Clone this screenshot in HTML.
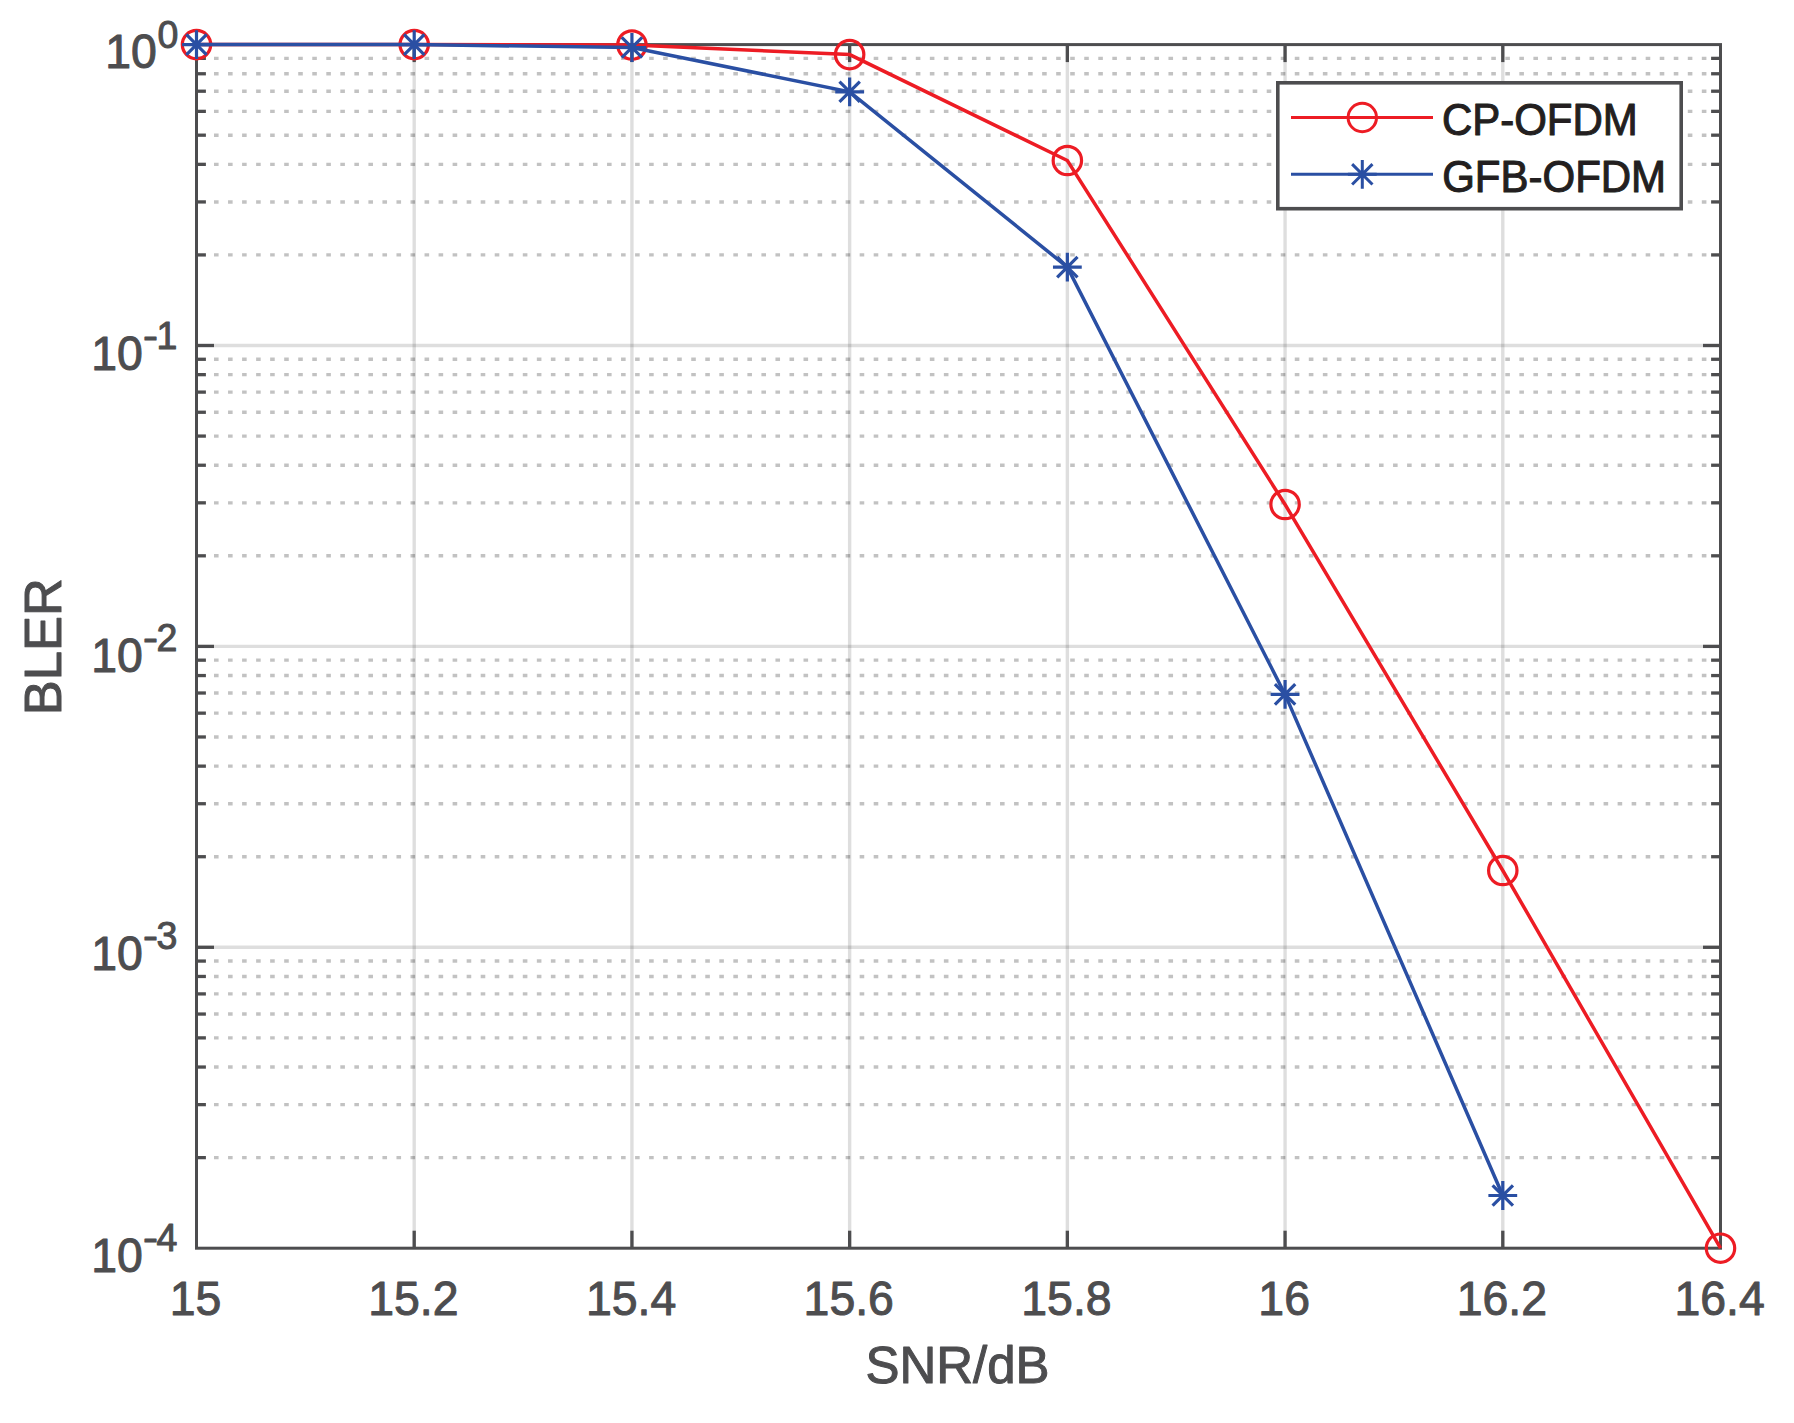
<!DOCTYPE html>
<html lang="en"><head><meta charset="utf-8"><title>BLER vs SNR</title>
<style>html,body{margin:0;padding:0;background:#fff;}body{width:1794px;height:1423px;overflow:hidden;}svg{display:block;}text{font-family:"Liberation Sans",sans-serif;}</style>
</head><body>
<svg width="1794" height="1423" viewBox="0 0 1794 1423">
<rect x="0" y="0" width="1794" height="1423" fill="#ffffff"/>
<g stroke="#000" stroke-opacity="0.24" stroke-width="3.40" stroke-dasharray="4.600 9.436" fill="none">
<line x1="214.00" y1="254.92" x2="1710.10" y2="254.92"/>
<line x1="214.00" y1="201.93" x2="1710.10" y2="201.93"/>
<line x1="214.00" y1="164.34" x2="1710.10" y2="164.34"/>
<line x1="214.00" y1="135.18" x2="1710.10" y2="135.18"/>
<line x1="214.00" y1="111.35" x2="1710.10" y2="111.35"/>
<line x1="214.00" y1="91.21" x2="1710.10" y2="91.21"/>
<line x1="214.00" y1="73.76" x2="1710.10" y2="73.76"/>
<line x1="214.00" y1="58.37" x2="1710.10" y2="58.37"/>
<line x1="214.00" y1="555.82" x2="1710.10" y2="555.82"/>
<line x1="214.00" y1="502.83" x2="1710.10" y2="502.83"/>
<line x1="214.00" y1="465.24" x2="1710.10" y2="465.24"/>
<line x1="214.00" y1="436.08" x2="1710.10" y2="436.08"/>
<line x1="214.00" y1="412.25" x2="1710.10" y2="412.25"/>
<line x1="214.00" y1="392.11" x2="1710.10" y2="392.11"/>
<line x1="214.00" y1="374.66" x2="1710.10" y2="374.66"/>
<line x1="214.00" y1="359.27" x2="1710.10" y2="359.27"/>
<line x1="214.00" y1="856.72" x2="1710.10" y2="856.72"/>
<line x1="214.00" y1="803.73" x2="1710.10" y2="803.73"/>
<line x1="214.00" y1="766.14" x2="1710.10" y2="766.14"/>
<line x1="214.00" y1="736.98" x2="1710.10" y2="736.98"/>
<line x1="214.00" y1="713.15" x2="1710.10" y2="713.15"/>
<line x1="214.00" y1="693.01" x2="1710.10" y2="693.01"/>
<line x1="214.00" y1="675.56" x2="1710.10" y2="675.56"/>
<line x1="214.00" y1="660.17" x2="1710.10" y2="660.17"/>
<line x1="214.00" y1="1157.62" x2="1710.10" y2="1157.62"/>
<line x1="214.00" y1="1104.63" x2="1710.10" y2="1104.63"/>
<line x1="214.00" y1="1067.04" x2="1710.10" y2="1067.04"/>
<line x1="214.00" y1="1037.88" x2="1710.10" y2="1037.88"/>
<line x1="214.00" y1="1014.05" x2="1710.10" y2="1014.05"/>
<line x1="214.00" y1="993.91" x2="1710.10" y2="993.91"/>
<line x1="214.00" y1="976.46" x2="1710.10" y2="976.46"/>
<line x1="214.00" y1="961.07" x2="1710.10" y2="961.07"/>
</g>
<g stroke="#000" stroke-opacity="0.13" stroke-width="3.4" fill="none">
<line x1="414.21" y1="44.60" x2="414.21" y2="1248.20"/>
<line x1="631.93" y1="44.60" x2="631.93" y2="1248.20"/>
<line x1="849.64" y1="44.60" x2="849.64" y2="1248.20"/>
<line x1="1067.36" y1="44.60" x2="1067.36" y2="1248.20"/>
<line x1="1285.07" y1="44.60" x2="1285.07" y2="1248.20"/>
<line x1="1502.79" y1="44.60" x2="1502.79" y2="1248.20"/>
<line x1="196.50" y1="345.50" x2="1720.50" y2="345.50"/>
<line x1="196.50" y1="646.40" x2="1720.50" y2="646.40"/>
<line x1="196.50" y1="947.30" x2="1720.50" y2="947.30"/>
</g>
<g stroke="#4d4d4f" stroke-width="3.3" fill="none">
<line x1="414.21" y1="1248.20" x2="414.21" y2="1230.70"/>
<line x1="414.21" y1="44.60" x2="414.21" y2="62.10"/>
<line x1="631.93" y1="1248.20" x2="631.93" y2="1230.70"/>
<line x1="631.93" y1="44.60" x2="631.93" y2="62.10"/>
<line x1="849.64" y1="1248.20" x2="849.64" y2="1230.70"/>
<line x1="849.64" y1="44.60" x2="849.64" y2="62.10"/>
<line x1="1067.36" y1="1248.20" x2="1067.36" y2="1230.70"/>
<line x1="1067.36" y1="44.60" x2="1067.36" y2="62.10"/>
<line x1="1285.07" y1="1248.20" x2="1285.07" y2="1230.70"/>
<line x1="1285.07" y1="44.60" x2="1285.07" y2="62.10"/>
<line x1="1502.79" y1="1248.20" x2="1502.79" y2="1230.70"/>
<line x1="1502.79" y1="44.60" x2="1502.79" y2="62.10"/>
<line x1="196.50" y1="345.50" x2="214.00" y2="345.50"/>
<line x1="1720.50" y1="345.50" x2="1703.00" y2="345.50"/>
<line x1="196.50" y1="646.40" x2="214.00" y2="646.40"/>
<line x1="1720.50" y1="646.40" x2="1703.00" y2="646.40"/>
<line x1="196.50" y1="947.30" x2="214.00" y2="947.30"/>
<line x1="1720.50" y1="947.30" x2="1703.00" y2="947.30"/>
<line x1="196.50" y1="254.92" x2="205.90" y2="254.92"/>
<line x1="1720.50" y1="254.92" x2="1711.10" y2="254.92"/>
<line x1="196.50" y1="201.93" x2="205.90" y2="201.93"/>
<line x1="1720.50" y1="201.93" x2="1711.10" y2="201.93"/>
<line x1="196.50" y1="164.34" x2="205.90" y2="164.34"/>
<line x1="1720.50" y1="164.34" x2="1711.10" y2="164.34"/>
<line x1="196.50" y1="135.18" x2="205.90" y2="135.18"/>
<line x1="1720.50" y1="135.18" x2="1711.10" y2="135.18"/>
<line x1="196.50" y1="111.35" x2="205.90" y2="111.35"/>
<line x1="1720.50" y1="111.35" x2="1711.10" y2="111.35"/>
<line x1="196.50" y1="91.21" x2="205.90" y2="91.21"/>
<line x1="1720.50" y1="91.21" x2="1711.10" y2="91.21"/>
<line x1="196.50" y1="73.76" x2="205.90" y2="73.76"/>
<line x1="1720.50" y1="73.76" x2="1711.10" y2="73.76"/>
<line x1="196.50" y1="58.37" x2="205.90" y2="58.37"/>
<line x1="1720.50" y1="58.37" x2="1711.10" y2="58.37"/>
<line x1="196.50" y1="555.82" x2="205.90" y2="555.82"/>
<line x1="1720.50" y1="555.82" x2="1711.10" y2="555.82"/>
<line x1="196.50" y1="502.83" x2="205.90" y2="502.83"/>
<line x1="1720.50" y1="502.83" x2="1711.10" y2="502.83"/>
<line x1="196.50" y1="465.24" x2="205.90" y2="465.24"/>
<line x1="1720.50" y1="465.24" x2="1711.10" y2="465.24"/>
<line x1="196.50" y1="436.08" x2="205.90" y2="436.08"/>
<line x1="1720.50" y1="436.08" x2="1711.10" y2="436.08"/>
<line x1="196.50" y1="412.25" x2="205.90" y2="412.25"/>
<line x1="1720.50" y1="412.25" x2="1711.10" y2="412.25"/>
<line x1="196.50" y1="392.11" x2="205.90" y2="392.11"/>
<line x1="1720.50" y1="392.11" x2="1711.10" y2="392.11"/>
<line x1="196.50" y1="374.66" x2="205.90" y2="374.66"/>
<line x1="1720.50" y1="374.66" x2="1711.10" y2="374.66"/>
<line x1="196.50" y1="359.27" x2="205.90" y2="359.27"/>
<line x1="1720.50" y1="359.27" x2="1711.10" y2="359.27"/>
<line x1="196.50" y1="856.72" x2="205.90" y2="856.72"/>
<line x1="1720.50" y1="856.72" x2="1711.10" y2="856.72"/>
<line x1="196.50" y1="803.73" x2="205.90" y2="803.73"/>
<line x1="1720.50" y1="803.73" x2="1711.10" y2="803.73"/>
<line x1="196.50" y1="766.14" x2="205.90" y2="766.14"/>
<line x1="1720.50" y1="766.14" x2="1711.10" y2="766.14"/>
<line x1="196.50" y1="736.98" x2="205.90" y2="736.98"/>
<line x1="1720.50" y1="736.98" x2="1711.10" y2="736.98"/>
<line x1="196.50" y1="713.15" x2="205.90" y2="713.15"/>
<line x1="1720.50" y1="713.15" x2="1711.10" y2="713.15"/>
<line x1="196.50" y1="693.01" x2="205.90" y2="693.01"/>
<line x1="1720.50" y1="693.01" x2="1711.10" y2="693.01"/>
<line x1="196.50" y1="675.56" x2="205.90" y2="675.56"/>
<line x1="1720.50" y1="675.56" x2="1711.10" y2="675.56"/>
<line x1="196.50" y1="660.17" x2="205.90" y2="660.17"/>
<line x1="1720.50" y1="660.17" x2="1711.10" y2="660.17"/>
<line x1="196.50" y1="1157.62" x2="205.90" y2="1157.62"/>
<line x1="1720.50" y1="1157.62" x2="1711.10" y2="1157.62"/>
<line x1="196.50" y1="1104.63" x2="205.90" y2="1104.63"/>
<line x1="1720.50" y1="1104.63" x2="1711.10" y2="1104.63"/>
<line x1="196.50" y1="1067.04" x2="205.90" y2="1067.04"/>
<line x1="1720.50" y1="1067.04" x2="1711.10" y2="1067.04"/>
<line x1="196.50" y1="1037.88" x2="205.90" y2="1037.88"/>
<line x1="1720.50" y1="1037.88" x2="1711.10" y2="1037.88"/>
<line x1="196.50" y1="1014.05" x2="205.90" y2="1014.05"/>
<line x1="1720.50" y1="1014.05" x2="1711.10" y2="1014.05"/>
<line x1="196.50" y1="993.91" x2="205.90" y2="993.91"/>
<line x1="1720.50" y1="993.91" x2="1711.10" y2="993.91"/>
<line x1="196.50" y1="976.46" x2="205.90" y2="976.46"/>
<line x1="1720.50" y1="976.46" x2="1711.10" y2="976.46"/>
<line x1="196.50" y1="961.07" x2="205.90" y2="961.07"/>
<line x1="1720.50" y1="961.07" x2="1711.10" y2="961.07"/>
<rect stroke-width="3" x="196.50" y="44.60" width="1524.00" height="1203.60"/>
</g>
<text transform="translate(195.60,1315.00) scale(1.000,1.020)" font-size="46.40" fill="#4d4d4f" stroke="#4d4d4f" stroke-width="1.0" stroke-linejoin="round" text-anchor="middle">15</text>
<text transform="translate(413.31,1315.00) scale(1.000,1.020)" font-size="46.40" fill="#4d4d4f" stroke="#4d4d4f" stroke-width="1.0" stroke-linejoin="round" text-anchor="middle">15.2</text>
<text transform="translate(631.03,1315.00) scale(1.000,1.020)" font-size="46.40" fill="#4d4d4f" stroke="#4d4d4f" stroke-width="1.0" stroke-linejoin="round" text-anchor="middle">15.4</text>
<text transform="translate(848.74,1315.00) scale(1.000,1.020)" font-size="46.40" fill="#4d4d4f" stroke="#4d4d4f" stroke-width="1.0" stroke-linejoin="round" text-anchor="middle">15.6</text>
<text transform="translate(1066.46,1315.00) scale(1.000,1.020)" font-size="46.40" fill="#4d4d4f" stroke="#4d4d4f" stroke-width="1.0" stroke-linejoin="round" text-anchor="middle">15.8</text>
<text transform="translate(1284.17,1315.00) scale(1.000,1.020)" font-size="46.40" fill="#4d4d4f" stroke="#4d4d4f" stroke-width="1.0" stroke-linejoin="round" text-anchor="middle">16</text>
<text transform="translate(1501.89,1315.00) scale(1.000,1.020)" font-size="46.40" fill="#4d4d4f" stroke="#4d4d4f" stroke-width="1.0" stroke-linejoin="round" text-anchor="middle">16.2</text>
<text transform="translate(1719.60,1315.00) scale(1.000,1.020)" font-size="46.40" fill="#4d4d4f" stroke="#4d4d4f" stroke-width="1.0" stroke-linejoin="round" text-anchor="middle">16.4</text>
<text transform="translate(105.20,68.10) scale(1.000,1.020)" font-size="46.40" fill="#4d4d4f" stroke="#4d4d4f" stroke-width="1.0" stroke-linejoin="round" text-anchor="start">10</text>
<text transform="translate(157.40,47.50) scale(1.000,1.020)" font-size="37.50" fill="#4d4d4f" stroke="#4d4d4f" stroke-width="1.0" stroke-linejoin="round" text-anchor="start">0</text>
<text transform="translate(91.20,370.00) scale(1.000,1.020)" font-size="46.40" fill="#4d4d4f" stroke="#4d4d4f" stroke-width="1.0" stroke-linejoin="round" text-anchor="start">10</text>
<text transform="translate(150.45,349.00) scale(1.200,1.020)" font-size="37.50" fill="#4d4d4f" stroke="#4d4d4f" stroke-width="1.0" stroke-linejoin="round" text-anchor="middle">-</text>
<text transform="translate(156.40,349.00) scale(1.000,1.020)" font-size="37.50" fill="#4d4d4f" stroke="#4d4d4f" stroke-width="1.0" stroke-linejoin="round" text-anchor="start">1</text>
<text transform="translate(91.20,671.80) scale(1.000,1.020)" font-size="46.40" fill="#4d4d4f" stroke="#4d4d4f" stroke-width="1.0" stroke-linejoin="round" text-anchor="start">10</text>
<text transform="translate(150.45,650.80) scale(1.200,1.020)" font-size="37.50" fill="#4d4d4f" stroke="#4d4d4f" stroke-width="1.0" stroke-linejoin="round" text-anchor="middle">-</text>
<text transform="translate(156.40,650.80) scale(1.000,1.020)" font-size="37.50" fill="#4d4d4f" stroke="#4d4d4f" stroke-width="1.0" stroke-linejoin="round" text-anchor="start">2</text>
<text transform="translate(91.20,970.00) scale(1.000,1.020)" font-size="46.40" fill="#4d4d4f" stroke="#4d4d4f" stroke-width="1.0" stroke-linejoin="round" text-anchor="start">10</text>
<text transform="translate(150.45,949.00) scale(1.200,1.020)" font-size="37.50" fill="#4d4d4f" stroke="#4d4d4f" stroke-width="1.0" stroke-linejoin="round" text-anchor="middle">-</text>
<text transform="translate(156.40,949.00) scale(1.000,1.020)" font-size="37.50" fill="#4d4d4f" stroke="#4d4d4f" stroke-width="1.0" stroke-linejoin="round" text-anchor="start">3</text>
<text transform="translate(91.20,1271.80) scale(1.000,1.020)" font-size="46.40" fill="#4d4d4f" stroke="#4d4d4f" stroke-width="1.0" stroke-linejoin="round" text-anchor="start">10</text>
<text transform="translate(150.45,1250.80) scale(1.200,1.020)" font-size="37.50" fill="#4d4d4f" stroke="#4d4d4f" stroke-width="1.0" stroke-linejoin="round" text-anchor="middle">-</text>
<text transform="translate(156.40,1250.80) scale(1.000,1.020)" font-size="37.50" fill="#4d4d4f" stroke="#4d4d4f" stroke-width="1.0" stroke-linejoin="round" text-anchor="start">4</text>
<text transform="translate(957.50,1382.60) scale(1.000,1.015)" font-size="51.00" fill="#4d4d4f" stroke="#4d4d4f" stroke-width="1.0" stroke-linejoin="round" text-anchor="middle">SNR/dB</text>
<text transform="translate(61.00,646.70) rotate(-90) scale(1.028,1.015)" font-size="51.00" fill="#4d4d4f" stroke="#4d4d4f" stroke-width="1.0" stroke-linejoin="round" text-anchor="middle">BLER</text>
<g stroke="#ed1c24" stroke-width="3.2" fill="none" stroke-linejoin="miter">
<polyline stroke-width="3.5" points="196.50,44.60 414.21,44.60 631.93,45.00 849.64,54.60 1067.36,160.50 1285.07,504.50 1502.79,870.50 1720.50,1248.20"/>
<circle cx="196.50" cy="44.60" r="14.2"/>
<circle cx="414.21" cy="44.60" r="14.2"/>
<circle cx="631.93" cy="45.00" r="14.2"/>
<circle cx="849.64" cy="54.60" r="14.2"/>
<circle cx="1067.36" cy="160.50" r="14.2"/>
<circle cx="1285.07" cy="504.50" r="14.2"/>
<circle cx="1502.79" cy="870.50" r="14.2"/>
<circle cx="1720.50" cy="1248.20" r="14.2"/>
</g>
<g stroke="#2a4fa3" stroke-width="3.2" fill="none" stroke-linejoin="miter">
<polyline stroke-width="3.5" points="196.50,44.60 414.21,44.60 631.93,47.50 849.64,91.80 1067.36,267.10 1285.07,694.40 1502.79,1195.50"/>
<path d="M182.10 44.60H210.90M196.50 30.20V59.00M186.32 34.42L206.68 54.78M186.32 54.78L206.68 34.42"/>
<path d="M399.81 44.60H428.61M414.21 30.20V59.00M404.03 34.42L424.40 54.78M404.03 54.78L424.40 34.42"/>
<path d="M617.53 47.50H646.33M631.93 33.10V61.90M621.75 37.32L642.11 57.68M621.75 57.68L642.11 37.32"/>
<path d="M835.24 91.80H864.04M849.64 77.40V106.20M839.46 81.62L859.83 101.98M839.46 101.98L859.83 81.62"/>
<path d="M1052.96 267.10H1081.76M1067.36 252.70V281.50M1057.17 256.92L1077.54 277.28M1057.17 277.28L1077.54 256.92"/>
<path d="M1270.67 694.40H1299.47M1285.07 680.00V708.80M1274.89 684.22L1295.25 704.58M1274.89 704.58L1295.25 684.22"/>
<path d="M1488.39 1195.50H1517.19M1502.79 1181.10V1209.90M1492.60 1185.32L1512.97 1205.68M1492.60 1205.68L1512.97 1185.32"/>
</g>
<rect x="1277.80" y="82.80" width="403.40" height="125.90" fill="#fff" stroke="#4d4d4f" stroke-width="3.6"/>
<g stroke="#ed1c24" stroke-width="3" fill="none"><line x1="1291" y1="117.5" x2="1433" y2="117.5"/><circle cx="1362.30" cy="117.50" r="14.2"/></g>
<g stroke="#2a4fa3" stroke-width="3" fill="none"><line x1="1291" y1="174.3" x2="1433" y2="174.3"/><path d="M1347.90 174.30H1376.70M1362.30 159.90V188.70M1352.12 164.12L1372.48 184.48M1352.12 184.48L1372.48 164.12"/></g>
<text transform="translate(1441.90,134.70) scale(1.000,1.040)" font-size="42.00" fill="#231f20" stroke="#231f20" stroke-width="1.0" stroke-linejoin="round" text-anchor="start">CP-OFDM</text>
<text transform="translate(1442.20,192.00) scale(1.000,1.040)" font-size="42.00" fill="#231f20" stroke="#231f20" stroke-width="1.0" stroke-linejoin="round" text-anchor="start">GFB-OFDM</text>
</svg></body></html>
